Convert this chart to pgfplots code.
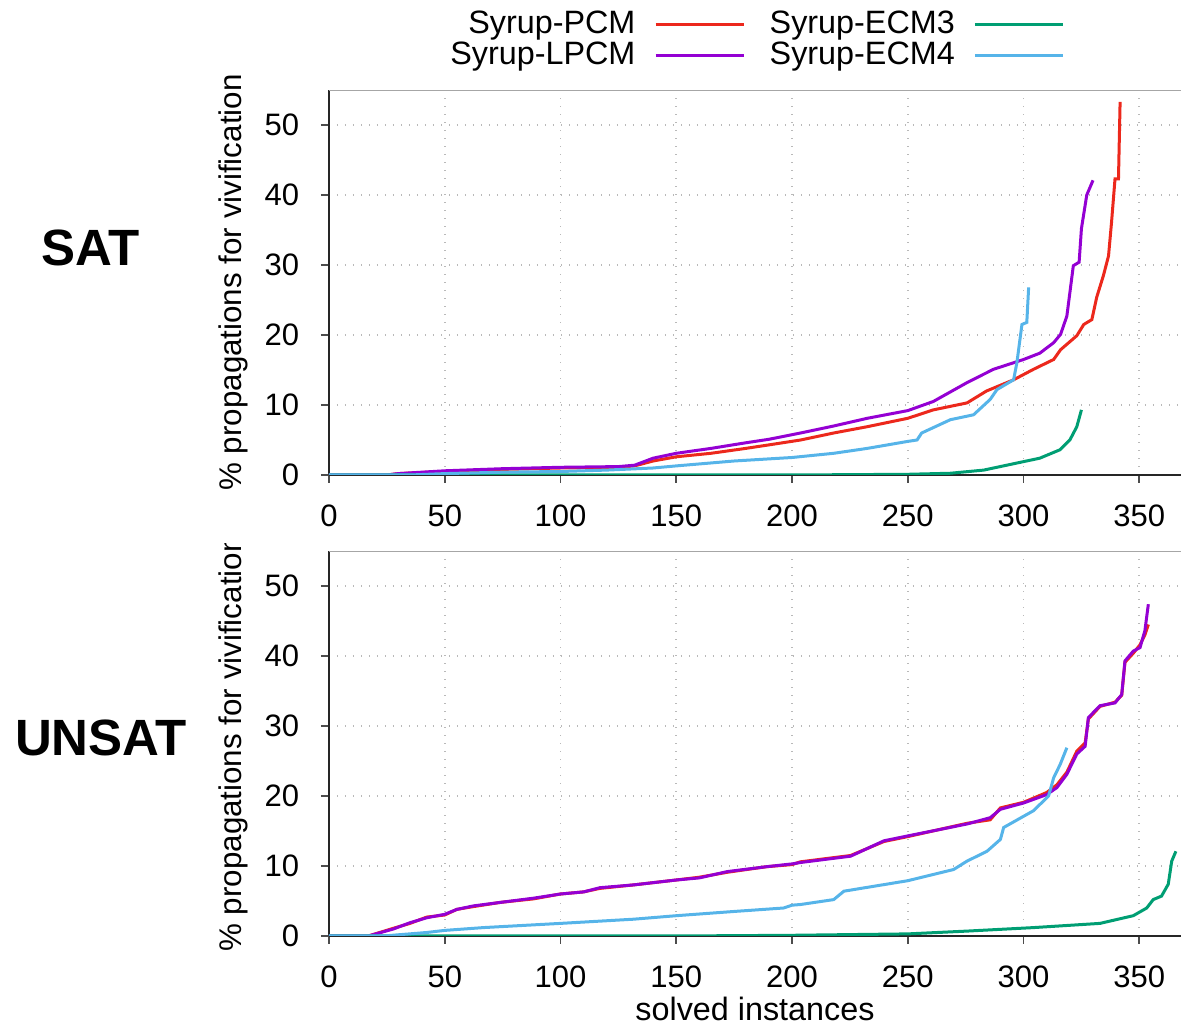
\documentclass[border=0pt]{standalone}
\usepackage{fontspec}
\setmainfont{Liberation Sans}
\usepackage{pgfplots}
\pgfplotsset{compat=1.18}

\definecolor{cpcm}{RGB}{236,40,28}
\definecolor{clpcm}{RGB}{148,0,211}
\definecolor{cecmthree}{RGB}{0,158,115}
\definecolor{cecmfour}{RGB}{86,180,233}

\pgfplotsset{
  vivi/.style={
    scale only axis, width=255.6pt, height=115.5pt,
    xmin=0, xmax=368, ymin=0, ymax=55,
    xtick={0,50,...,350}, ytick={0,10,...,50},
    axis x line*=bottom, axis y line*=left,
    axis line style={black!85, line width=0.6pt, -},
    tick align=outside, major tick length=2.4pt,
    tick style={black!70, line width=0.5pt},
    grid=major, major grid style={gray!55, dotted, line width=0.5pt},
    /pgf/number format/assume math mode=true,
    tick label style={font=\fontsize{9.3}{11}\selectfont},
    yticklabel style={xshift=-3pt},
    xticklabel style={yshift=-3pt},
    ylabel={\% propagations for vivification},
    ylabel style={at={(axis description cs:-0.1127,0.5)}, anchor=center,
      font=\fontsize{9.4}{11}\selectfont},
    every axis plot/.append style={line width=0.9pt, no markers},
  },
}

\begin{document}
\begin{tikzpicture}
% SAT
\begin{axis}[vivi,
  legend columns=2, transpose legend,
  legend plot pos=right, legend cell align=right,
  legend image code/.code={\draw[#1] (0pt,0pt) -- (26.4pt,0pt);},
  legend style={at={(axis description cs:0.864,1.224)}, anchor=north east,
    draw=none, fill=none, inner sep=0pt, row sep=-3pt,
    font=\fontsize{9.7}{11}\selectfont,
    /tikz/every odd column/.append style={column sep=3.6pt},
    /tikz/every even column/.append style={column sep=5.4pt}},
]
\addplot[cpcm] coordinates {(0,0) (25,0) (30,0.2) (50,0.5) (75,0.8) (100,1.0) (125,1.1) (132,1.3) (140,2.0) (150,2.6) (165,3.1) (180,3.8) (190,4.3) (203.7,5.0) (218,6.0) (232.5,6.9) (250,8.1) (261,9.3) (275.6,10.3) (284,12.0) (295.7,13.6) (304.3,15.1) (313,16.5) (316,17.9) (323,19.9) (326,21.5) (329.5,22.2) (331.6,25.4) (334.5,28.5) (336.7,31.3) (338,36.1) (339.5,42.3) (341,42.3) (341.7,53.3)};
\addlegendentry{Syrup-PCM}
\addplot[clpcm] coordinates {(0,0) (25,0) (30,0.2) (50,0.6) (75,0.9) (100,1.1) (125,1.2) (132,1.4) (140,2.4) (150,3.1) (165,3.8) (180,4.6) (190,5.1) (203.7,6.0) (218,7.0) (232.5,8.1) (250,9.2) (261,10.5) (275.6,13.2) (287,15.1) (300,16.5) (307,17.4) (313,18.9) (316,20.1) (318.7,22.7) (321.5,29.9) (324,30.4) (325,35.2) (327.3,40) (330,42.1)};
\addlegendentry{Syrup-LPCM}
\addplot[cecmthree] coordinates {(0,0) (200,0) (250,0.1) (268.4,0.25) (282.8,0.7) (297,1.7) (307,2.4) (315.7,3.6) (320,5.0) (323,6.9) (325,9.3)};
\addlegendentry{Syrup-ECM3}
\addplot[cecmfour] coordinates {(0,0) (35,0) (50,0.2) (75,0.4) (100,0.5) (120,0.7) (140,1.0) (150,1.3) (175,2.0) (200,2.5) (218,3.1) (232.5,3.8) (250,4.8) (254,5.0) (256,6.0) (268.4,7.9) (278.4,8.6) (285.6,10.8) (288.5,12.2) (295.7,13.6) (297.1,16) (299.3,21.5) (301.4,21.8) (302.2,26.8)};
\addlegendentry{Syrup-ECM4}
\draw[gray!70, line width=0.7pt] (rel axis cs:0,1) -- (rel axis cs:1,1);
\end{axis}
% UNSAT
\begin{axis}[vivi, at={(0pt,-138.3pt)},
  xlabel={solved instances},
  xlabel style={at={(axis description cs:0.5,-0.157)}, anchor=north, inner sep=0pt,
    font=\fontsize{9.7}{11}\selectfont},
]
\addplot[cpcm] coordinates {(0,0) (17,0) (27.8,1.1) (35,1.8) (42.2,2.7) (50,3.0) (55.2,3.8) (62.4,4.2) (74,4.8) (88.3,5.3) (100,6.0) (110,6.3) (117,6.8) (131.6,7.3) (150,8.0) (160,8.4) (172,9.1) (189,9.9) (200,10.2) (203.7,10.6) (225.3,11.5) (239.7,13.5) (250,14.2) (275.6,16.1) (285.6,16.6) (290,18.3) (300,19.1) (310,20.5) (314.4,21.6) (318.7,23.4) (323,26.4) (326.6,27.6) (328,31.0) (333,32.8) (339.5,33.4) (342.4,34.4) (343.8,39.1) (347.4,40.4) (350.3,41.6) (352.4,43.0) (353.9,44.5)};
\addplot[clpcm] coordinates {(0,0) (17,0) (27.8,1.0) (35,1.9) (42.2,2.6) (50,3.1) (55.2,3.8) (62.4,4.3) (74,4.8) (88.3,5.4) (100,6.0) (110,6.3) (117,6.9) (131.6,7.3) (150,8.0) (160,8.3) (172,9.2) (189,9.9) (200,10.3) (203.7,10.5) (225.3,11.4) (239.7,13.6) (250,14.3) (275.6,16) (285.6,16.9) (290,18.1) (300,19) (310,20.2) (314.4,21.2) (318.7,23.1) (323,26) (326.6,27.1) (328,31.2) (333,32.9) (339.5,33.3) (342.4,34.5) (343.8,39.3) (347.4,40.7) (350.3,41.2) (352.4,43.6) (353.9,47.4)};
\addplot[cecmthree] coordinates {(0,0) (150,0) (200,0.1) (250,0.3) (275.6,0.7) (304.3,1.2) (333,1.8) (347.4,2.9) (353.2,4.0) (356,5.2) (359.6,5.7) (362.5,7.4) (364,10.7) (365.8,12.1)};
\addplot[cecmfour] coordinates {(0,0) (23.5,0) (42.2,0.5) (50,0.8) (66.7,1.2) (100,1.8) (131.6,2.4) (150,2.9) (174.8,3.5) (196.4,4.0) (200,4.4) (203.7,4.5) (218,5.2) (222.4,6.4) (250,7.9) (269.8,9.5) (275.6,10.7) (284.2,12.1) (290,13.8) (291.4,15.5) (304.3,17.9) (310.8,20) (313,22.6) (315.8,24.5) (318.7,26.9)};
\draw[gray!70, line width=0.7pt] (rel axis cs:0,1) -- (rel axis cs:1,1);
\end{axis}
% the lower y label is cut off at the top in the original
\fill[white] (-35.1pt,-15.9pt) rectangle (-23.1pt,-20.4pt);
\node[font=\bfseries\fontsize{15.3}{18}\selectfont] at (-71.4pt,68.1pt) {SAT};
\node[font=\bfseries\fontsize{15.3}{18}\selectfont] at (-68.4pt,-78.9pt) {UNSAT};
\pgfresetboundingbox
\path (-98.7pt,142.5pt) rectangle (255.6pt,-165pt);
\end{tikzpicture}
\end{document}
